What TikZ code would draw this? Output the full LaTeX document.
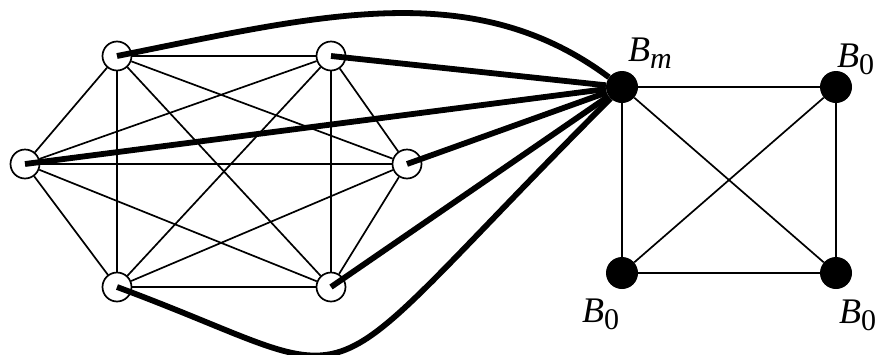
\documentclass[tikz,border=0pt]{standalone}
\usepackage{fontspec}
\setmainfont{Liberation Serif}
\usetikzlibrary{positioning}
\newcommand{\vlab}[2]{\textit{#1}\raisebox{-7pt}{\fontsize{30}{30}\selectfont #2}}

\begin{document}
\begin{tikzpicture}[
  x=1pt,y=-1pt,
  wv/.style={circle,draw,fill=white,line width=1.7pt,minimum size=29pt,inner sep=0pt},
  bv/.style={circle,fill=black,minimum size=32pt,inner sep=0pt},
  edge/.style={line width=1.7pt},
  heavy/.style={line width=5.8pt},
  lbl/.style={font=\fontsize{36}{40}\selectfont,inner sep=0pt,anchor=base west}
]
\useasboundingbox (0,0) rectangle (879,354);
% complete graph on six vertices
\node[wv] (tl) at (117,56) {};
\node[wv] (tr) at (331,56) {};
\node[wv] (l)  at (25,164) {};
\node[wv] (r)  at (407,164) {};
\node[wv] (bl) at (117,287) {};
\node[wv] (br) at (331,287) {};
\foreach \a/\b in {tl/tr,tl/l,tl/r,tl/bl,tl/br,tr/l,tr/r,tr/bl,tr/br,
  l/r,l/bl,l/br,r/bl,r/br,bl/br}
  \draw[edge] (\a) -- (\b);
% the square
\node[bv] (bm) at (622,87) {};
\node[bv] (b1) at (836,87) {};
\node[bv] (b2) at (622,273) {};
\node[bv] (b3) at (836,273) {};
\draw[edge] (bm) -- (b1);
\draw[edge] (bm) -- (b2);
\draw[edge] (bm) -- (b3);
\draw[edge] (b1) -- (b2);
\draw[edge] (b1) -- (b3);
\draw[edge] (b2) -- (b3);
% heavy edges into B_m
\draw[heavy] (tl.center) .. controls (317,16) and (472,-25) .. (bm);
\draw[heavy] (tr.center) -- (bm);
\draw[heavy] (l.center) -- (bm);
\draw[heavy] (r.center) -- (bm);
\draw[heavy] (br.center) -- (bm);
\draw[heavy] (bl.center) .. controls (387,387) and (292,417) .. (bm);
% labels
\node[lbl] (lm) at (628,61) {\vlab{B}{\textit{m}}};
\node[lbl] (l1) at (837,67) {\vlab{B}{0}};
\node[lbl] (l2) at (582,322) {\vlab{B}{0}};
\node[lbl] (l3) at (839,323) {\vlab{B}{0}};
\end{tikzpicture}
\end{document}
